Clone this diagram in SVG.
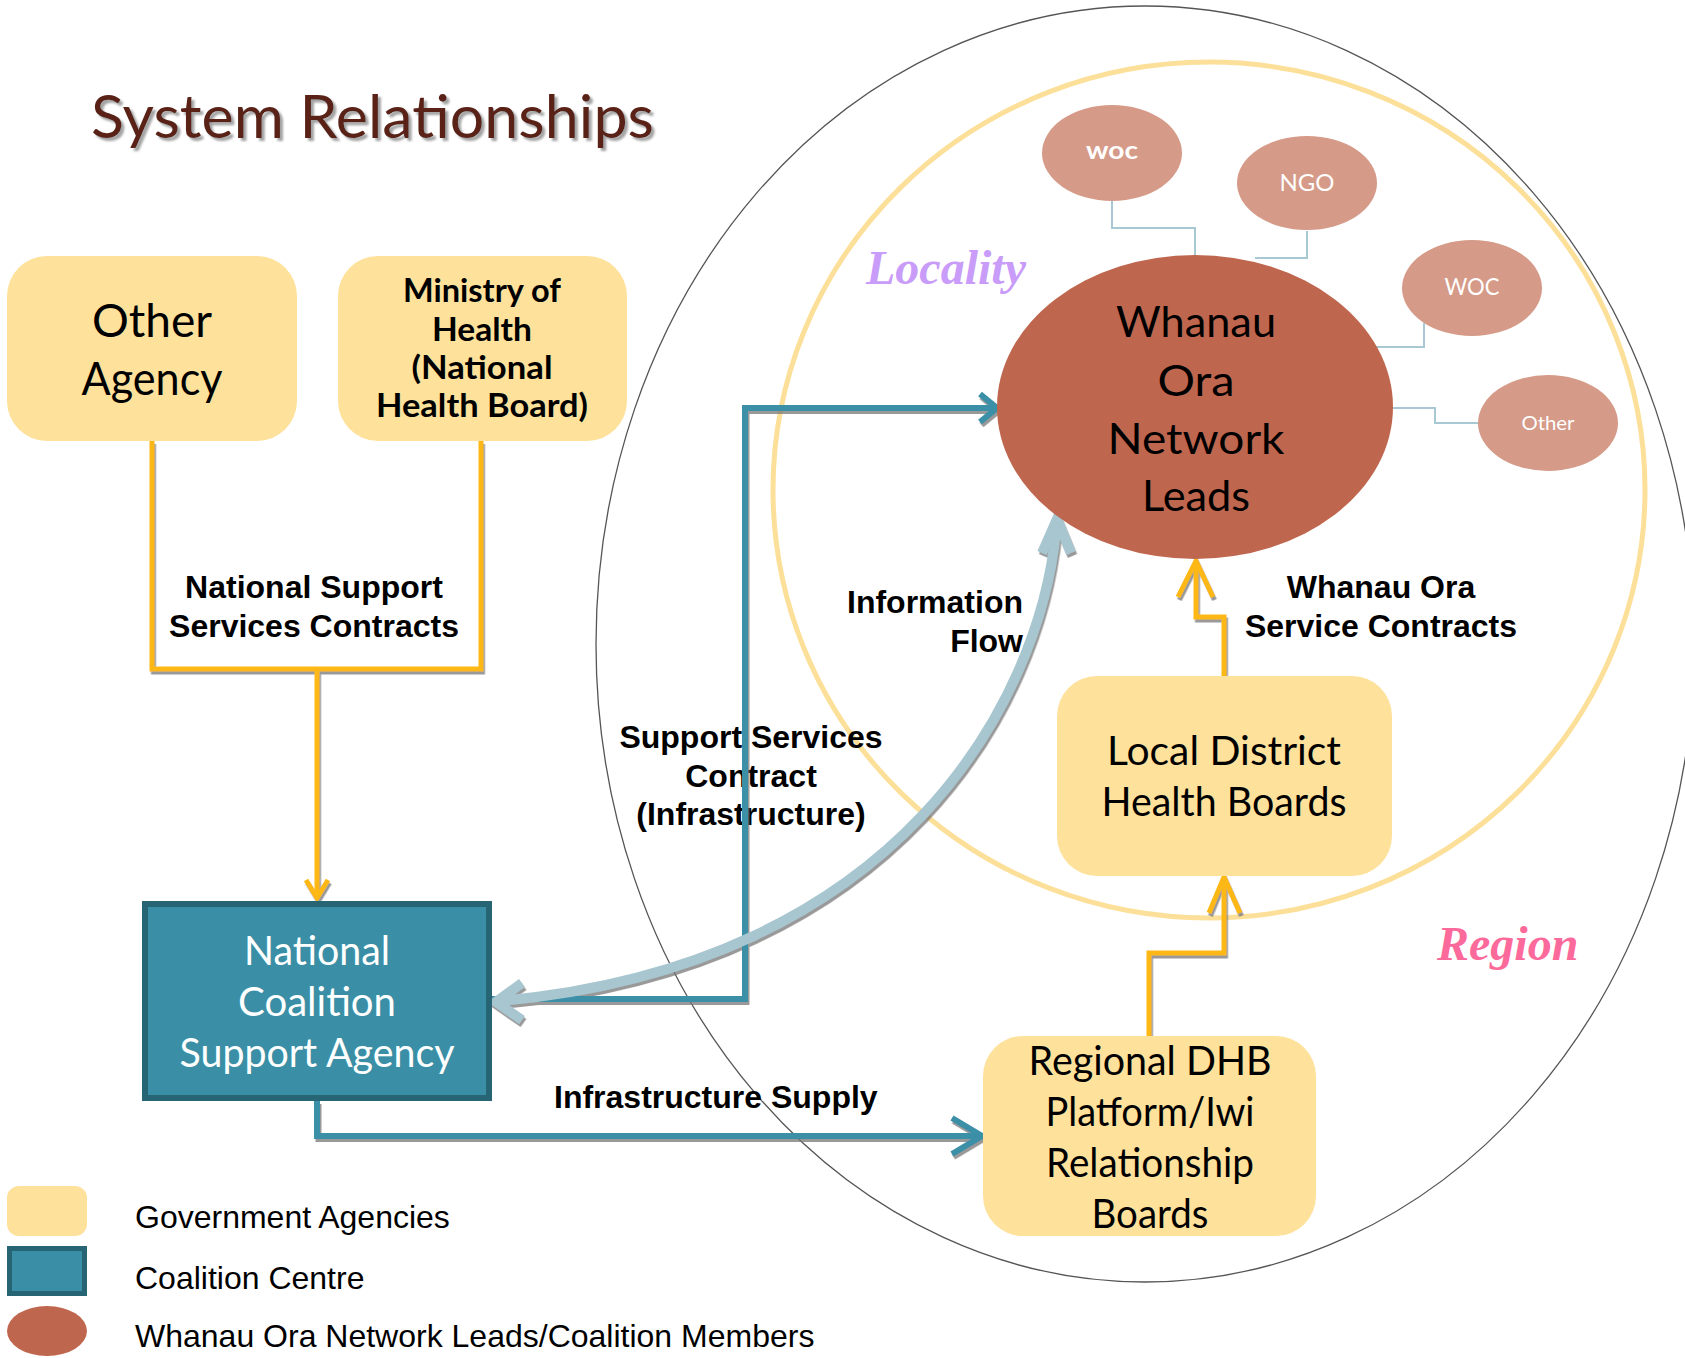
<svg xmlns="http://www.w3.org/2000/svg" width="1685" height="1358" viewBox="0 0 1685 1358">
<defs>
<filter id="sh" filterUnits="userSpaceOnUse" x="0" y="0" width="1685" height="1358"><feDropShadow dx="1.5" dy="3" stdDeviation="0.6" flood-color="#777" flood-opacity="0.75"/></filter>
<filter id="tsh" filterUnits="userSpaceOnUse" x="0" y="0" width="1685" height="1358"><feDropShadow dx="3" dy="3" stdDeviation="0.8" flood-color="#999" flood-opacity="0.9"/></filter>
</defs>
<style>
.g{font-family:Lato,"Open Sans","DejaVu Sans",sans-serif;text-anchor:middle;fill:#000}
.gov{fill:#FEE19B}
.yl{fill:none;stroke:#FDB813;stroke-width:5}
.tl{fill:none;stroke:#3A8FA6;stroke-width:6}
.if{fill:none;stroke:#A8C6D0;stroke-width:10}
.thin{fill:none;stroke:#A8C9D3;stroke-width:2}
.lbl{font-family:"Liberation Sans",Arial,sans-serif;font-weight:bold;font-size:32px;fill:#000}
.leg{font-family:"Liberation Sans",Arial,sans-serif;font-size:32px;fill:#000}
.sm{fill:#D59A88}
.smt{font-family:Lato,"Open Sans",sans-serif;text-anchor:middle;fill:#fff}
</style>
<g id="background">
<ellipse cx="1145" cy="644" rx="549" ry="638" fill="none" stroke="#555" stroke-width="1.3"/>
<ellipse cx="1209" cy="490" rx="436" ry="428" fill="none" stroke="#FCE099" stroke-width="5"/>
<text x="866" y="284" font-family="'Liberation Serif',serif" font-style="italic" font-weight="bold" font-size="48" fill="#C89CF8">Locality</text>
<text x="1437" y="960" font-family="'Liberation Serif',serif" font-style="italic" font-weight="bold" font-size="48" fill="#FB6A9A">Region</text>
</g>
<text id="title" x="91" y="138" font-family="Lato,'Open Sans',sans-serif" font-size="60" fill="#5A2317" textLength="563" lengthAdjust="spacingAndGlyphs" filter="url(#tsh)">System Relationships</text>
<g id="edge-labels" class="lbl">
<text x="314" y="598" text-anchor="middle">National Support</text>
<text x="314" y="637" text-anchor="middle">Services Contracts</text>
<text x="1023" y="613" text-anchor="end">Information</text>
<text x="1023" y="652" text-anchor="end">Flow</text>
<text x="1381" y="598" text-anchor="middle">Whanau Ora</text>
<text x="1381" y="637" text-anchor="middle">Service Contracts</text>
<text x="751" y="748" text-anchor="middle">Support Services</text>
<text x="751" y="787" text-anchor="middle">Contract</text>
<text x="751" y="825" text-anchor="middle">(Infrastructure)</text>
<text x="554" y="1108">Infrastructure Supply</text>
</g>
<g id="connectors">
<g id="member-links">
<path class="thin" d="M1112,201 V228 H1195 V255"/>
<path class="thin" d="M1307,231 V258 H1255"/>
<path class="thin" d="M1424,323 V347 H1375"/>
<path class="thin" d="M1391,408 H1435 V423 H1478"/>
</g>
<g id="flows" filter="url(#sh)">
<path class="yl" d="M152,441 V669 H481 V441 M317,669 V893"/>
<path class="yl" d="M306,880 L317,898 L328,880"/>
<path class="yl" d="M1224,676 V617 H1196 V565"/>
<path class="yl" d="M1178,597 L1196,561 L1213,597"/>
<path class="yl" d="M1149,1040 V953 H1224 V881"/>
<path class="yl" d="M1209,913 L1224,877 L1240,913"/>
<path class="tl" d="M492,999 H745 V408 H993"/>
<path class="tl" d="M980,394 L997,408 L980,422"/>
<path class="tl" d="M317,1101 V1136 H978"/>
<path class="tl" d="M952,1118 L982,1136 L952,1154"/>
<path class="if" d="M1056,530 C1040,700 900,965 500,1001"/>
<path class="if" d="M1042,553 L1057,519 L1071,553"/>
<path class="if" d="M522,983 L496,1002 L522,1020"/>
</g>
</g>
<g id="other-agency">
<rect class="gov" x="7" y="256" width="290" height="185" rx="40"/>
<text class="g" x="152" y="337" font-size="46" textLength="120" lengthAdjust="spacingAndGlyphs">Other</text>
<text class="g" x="152" y="395" font-size="46" textLength="141" lengthAdjust="spacingAndGlyphs">Agency</text>
</g>
<g id="ministry">
<rect class="gov" x="338" y="256" width="289" height="185" rx="40"/>
<g class="g" font-size="32" font-weight="bold">
<text x="482" y="302" textLength="158" lengthAdjust="spacingAndGlyphs">Ministry of</text>
<text x="482" y="341" textLength="100" lengthAdjust="spacingAndGlyphs">Health</text>
<text x="482" y="379" textLength="141" lengthAdjust="spacingAndGlyphs">(National</text>
<text x="482" y="417" textLength="212" lengthAdjust="spacingAndGlyphs">Health Board)</text>
</g>
</g>
<g id="coalition">
<rect x="145" y="904" width="344" height="194" fill="#3A8FA6" stroke="#276574" stroke-width="6"/>
<g class="g" font-size="40" style="fill:#fff">
<text x="317" y="965" textLength="146" lengthAdjust="spacingAndGlyphs">National</text>
<text x="317" y="1016" textLength="158" lengthAdjust="spacingAndGlyphs">Coalition</text>
<text x="317" y="1067" textLength="275" lengthAdjust="spacingAndGlyphs">Support Agency</text>
</g>
</g>
<g id="whanau-ora">
<ellipse cx="1195" cy="407" rx="198" ry="152" fill="#BF664E"/>
<g class="g" font-size="43">
<text x="1196" y="337" textLength="160" lengthAdjust="spacingAndGlyphs">Whanau</text>
<text x="1196" y="396" textLength="77" lengthAdjust="spacingAndGlyphs">Ora</text>
<text x="1196" y="454" textLength="177" lengthAdjust="spacingAndGlyphs">Network</text>
<text x="1196" y="511" textLength="108" lengthAdjust="spacingAndGlyphs">Leads</text>
</g>
</g>
<g id="local-dhb">
<rect class="gov" x="1057" y="676" width="335" height="200" rx="40"/>
<g class="g" font-size="40">
<text x="1224" y="765" textLength="234" lengthAdjust="spacingAndGlyphs">Local District</text>
<text x="1224" y="816" textLength="245" lengthAdjust="spacingAndGlyphs">Health Boards</text>
</g>
</g>
<g id="regional-dhb">
<rect class="gov" x="983" y="1036" width="333" height="200" rx="40"/>
<g class="g" font-size="40">
<text x="1150" y="1075" textLength="243" lengthAdjust="spacingAndGlyphs">Regional DHB</text>
<text x="1150" y="1126" textLength="209" lengthAdjust="spacingAndGlyphs">Platform/Iwi</text>
<text x="1150" y="1177" textLength="208" lengthAdjust="spacingAndGlyphs">Relationship</text>
<text x="1150" y="1228" textLength="117" lengthAdjust="spacingAndGlyphs">Boards</text>
</g>
</g>
<g id="woc-1">
<ellipse class="sm" cx="1112" cy="153" rx="70" ry="48"/>
<text class="smt" x="1112" y="159" font-size="24" font-weight="bold" textLength="52" lengthAdjust="spacingAndGlyphs">woc</text>
</g>
<g id="ngo">
<ellipse class="sm" cx="1307" cy="183" rx="70" ry="47"/>
<text class="smt" x="1307" y="191" font-size="23" textLength="55" lengthAdjust="spacingAndGlyphs">NGO</text>
</g>
<g id="woc-2">
<ellipse class="sm" cx="1472" cy="288" rx="70" ry="48"/>
<text class="smt" x="1472" y="295" font-size="23" textLength="55" lengthAdjust="spacingAndGlyphs">WOC</text>
</g>
<g id="other">
<ellipse class="sm" cx="1548" cy="423" rx="70" ry="48"/>
<text class="smt" x="1548" y="430" font-size="20" textLength="53" lengthAdjust="spacingAndGlyphs">Other</text>
</g>
<g id="legend">
<rect class="gov" x="7" y="1186" width="80" height="50" rx="12"/>
<rect x="9.5" y="1248.5" width="75" height="45" fill="#3A8FA6" stroke="#276574" stroke-width="5"/>
<ellipse cx="47" cy="1331" rx="40" ry="25" fill="#BF664E"/>
<text class="leg" x="135" y="1228">Government Agencies</text>
<text class="leg" x="135" y="1289">Coalition Centre</text>
<text class="leg" x="135" y="1347">Whanau Ora Network Leads/Coalition Members</text>
</g>
</svg>
